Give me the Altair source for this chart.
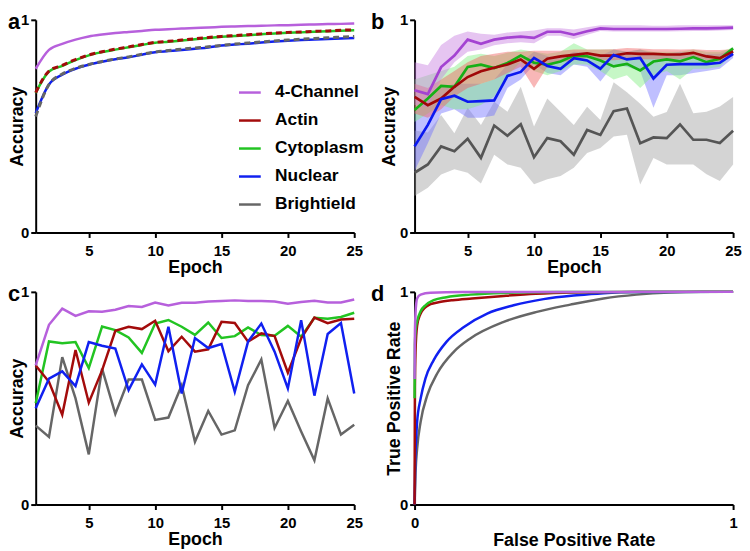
import altair as alt
import pandas as pd

epochs = list(range(1, 26))
series = ["4-Channel", "Actin", "Cytoplasm", "Nuclear", "Brightield"]
line_colors = ["#b760dc", "#a30b0b", "#22c422", "#1020f0", "#666666"]
b_line_colors = ["#a443d2", "#a00808", "#16b016", "#0a18f0", "#555555"]
band_colors = ["#c77ee0", "#f06060", "#80ee80", "#7070ff", "#a0a0a0"]
panel_letters = ["a", "b", "c", "d"]
FONT = "Liberation Sans"

# ---------- panel a: mean training curves ----------
a_vals = {
    "4-Channel": [.770, .859, .887, .907, .922, .931, .938, .943, .948, .953, .956, .959, .962,
                  .964, .967, .969, .971, .972, .974, .975, .977, .978, .980, .981, .983],
    "Actin": [.658, .759, .786, .813, .835, .850, .862, .873, .884, .894, .899, .905, .911,
              .917, .922, .926, .930, .934, .938, .941, .943, .946, .948, .951, .953],
    "Cytoplasm": [.656, .757, .784, .811, .833, .848, .860, .871, .882, .892, .897, .903, .909,
                  .915, .920, .924, .928, .932, .936, .939, .941, .944, .946, .949, .951],
    "Nuclear": [.561, .696, .742, .770, .789, .803, .815, .824, .836, .848, .853, .858, .864,
                .870, .879, .884, .888, .893, .898, .902, .905, .907, .910, .912, .915],
    "Brightield": [.545, .696, .745, .772, .790, .804, .816, .826, .838, .849, .856, .862, .868,
                   .873, .880, .886, .891, .896, .901, .905, .909, .912, .916, .919, .922],
}
a_dashed = ["Actin", "Brightield"]

# ---------- panel b: mean with range bands ----------
b_mean = {
    "4-Channel": [.669, .651, .778, .832, .907, .887, .907, .916, .921, .915, .944, .944, .930,
                  .946, .960, .957, .957, .957, .957, .957, .958, .960, .960, .961, .963],
    "Actin": [.638, .599, .630, .685, .731, .758, .775, .790, .814, .770, .817, .828, .835,
              .843, .832, .832, .843, .840, .840, .837, .837, .845, .828, .820, .851],
    "Cytoplasm": [.576, .630, .689, .685, .778, .789, .773, .797, .832, .798, .789, .804, .832,
                  .829, .809, .781, .793, .762, .804, .814, .805, .825, .801, .817, .866],
    "Nuclear": [.405, .506, .627, .643, .615, .618, .621, .736, .755, .821, .783, .770, .820,
                .809, .770, .835, .814, .821, .724, .789, .792, .792, .792, .798, .840],
    "Brightield": [.281, .320, .405, .382, .441, .351, .503, .455, .509, .354, .444, .429, .366,
                   .482, .459, .571, .583, .420, .447, .444, .508, .436, .436, .421, .478],
}
b_hi = {
    "4-Channel": [.800, .786, .882, .925, .945, .935, .930, .940, .945, .950, .960, .960, .955,
                  .965, .975, .975, .975, .975, .972, .972, .975, .975, .975, .975, .975],
    "Actin": [.700, .680, .720, .760, .800, .830, .840, .850, .850, .855, .855, .855, .860,
              .860, .860, .862, .868, .865, .862, .862, .860, .862, .858, .858, .862],
    "Cytoplasm": [.720, .740, .760, .780, .830, .840, .830, .845, .860, .850, .840, .850, .890,
                  .860, .860, .860, .850, .860, .850, .850, .850, .860, .850, .850, .870],
    "Nuclear": [.568, .620, .680, .700, .700, .700, .720, .790, .800, .850, .830, .820, .850,
                .845, .830, .860, .850, .860, .840, .840, .850, .840, .840, .840, .860],
    "Brightield": [.480, .470, .553, .467, .587, .506, .615, .568, .685, .498, .630, .568, .506,
                   .591, .529, .707, .660, .606, .544, .567, .699, .561, .568, .592, .637],
}
b_lo = {
    "4-Channel": [.600, .590, .720, .800, .850, .860, .880, .890, .895, .890, .925, .925, .910,
                  .930, .948, .945, .945, .945, .945, .945, .946, .948, .948, .950, .952],
    "Actin": [.560, .540, .580, .640, .680, .700, .720, .750, .780, .680, .780, .800, .810,
              .820, .810, .810, .815, .815, .815, .815, .815, .825, .810, .805, .830],
    "Cytoplasm": [.520, .560, .600, .580, .580, .600, .640, .740, .800, .760, .740, .760, .790,
                  .790, .760, .720, .740, .680, .740, .760, .720, .770, .770, .780, .840],
    "Nuclear": [.289, .420, .560, .580, .540, .540, .550, .680, .720, .790, .750, .740, .790,
                .780, .710, .790, .780, .760, .587, .740, .740, .750, .760, .770, .820],
    "Brightield": [.172, .211, .273, .297, .281, .230, .366, .320, .304, .227, .250, .266, .304,
                   .374, .397, .451, .460, .226, .350, .320, .320, .320, .274, .242, .320],
}
b_band_order = ["Brightield", "Nuclear", "Cytoplasm", "Actin", "4-Channel"]
b_line_order = ["Brightield", "4-Channel", "Cytoplasm", "Actin", "Nuclear"]

# ---------- panel c: single run ----------
c_vals = {
    "Brightield": [.371, .318, .693, .499, .236, .639, .426, .588, .588, .398, .409, .561, .295,
                   .440, .329, .349, .561, .682, .360, .487, .344, .208, .499, .329, .375],
    "Cytoplasm": [.476, .767, .758, .764, .642, .837, .820, .786, .713, .851, .868, .836, .798,
                  .856, .783, .792, .833, .797, .794, .840, .789, .878, .874, .882, .902],
    "Actin": [.654, .577, .422, .727, .479, .631, .817, .836, .825, .864, .721, .789, .719,
              .730, .859, .854, .766, .805, .792, .620, .781, .879, .853, .870, .874],
    "Nuclear": [.453, .592, .626, .557, .764, .747, .733, .538, .659, .564, .836, .522, .783,
                .736, .755, .530, .766, .851, .719, .546, .867, .512, .802, .853, .522],
    "4-Channel": [.654, .845, .921, .887, .909, .907, .916, .933, .929, .950, .936, .949, .949,
                  .955, .957, .960, .957, .957, .955, .944, .952, .958, .950, .950, .964],
}

# ---------- panel d: ROC curves ----------
roc = {
    "Brightield": ([0, .003, .008, .019, .04, .071, .123, .175, .28, .384, .489, .593, .697, .80, .9, 1],
                   [0, .15, .263, .389, .514, .616, .718, .781, .859, .906, .94, .969, .987, .997, 1, 1]),
    "Nuclear": ([0, .002, .005, .008, .019, .034, .06, .10, .155, .228, .311, .405, .509, .593, .70, 1],
                [0, .2, .31, .389, .498, .592, .679, .765, .835, .898, .937, .966, .984, .994, .999, 1]),
    "Actin": ([0, .001, .003, .008, .018, .03, .05, .075, .12, .18, .28, .38, .5, .7, 1],
              [0, .55, .72, .84, .895, .922, .942, .951, .961, .969, .981, .991, .997, 1, 1]),
    "Cytoplasm": ([0, .001, .004, .008, .019, .034, .06, .10, .175, .28, .45, 1],
                  [.5, .75, .83, .862, .909, .937, .961, .975, .987, .995, .999, 1]),
    "4-Channel": ([0, .001, .003, .008, .019, .05, .15, 1],
                  [.59, .80, .90, .969, .987, .996, .999, 1]),
}


def long_df(d, order):
    rows = []
    for name in order:
        for e, v in zip(epochs, d[name]):
            rows.append({"series": name, "epoch": e, "acc": v})
    return pd.DataFrame(rows)


W, H = 322, 215


def x_epoch():
    return alt.X("epoch:Q", scale=alt.Scale(domain=[1, 25], nice=False, zero=False),
                 axis=alt.Axis(values=[5, 10, 15, 20, 25], title="Epoch", titlePadding=0))


def y_axis(field, title, tp):
    return alt.Y(field, scale=alt.Scale(domain=[0, 1], nice=False),
                 axis=alt.Axis(values=[0, 1], format="d", title=title, titlePadding=tp))


def letter(ch, dx):
    return alt.Chart(pd.DataFrame({"t": [ch]})).mark_text(
        align="left", baseline="alphabetic", fontSize=22, fontWeight="bold",
        font=FONT, color="black").encode(text="t:N", x=alt.value(dx), y=alt.value(9))


# panel a
df_a_solid = long_df(a_vals, ["4-Channel", "Cytoplasm", "Nuclear"])
df_a_dash = long_df(a_vals, a_dashed)
a_solid = alt.Chart(df_a_solid).mark_line(strokeWidth=2.5, interpolate="monotone").encode(
    x=x_epoch(), y=y_axis("acc:Q", "Accuracy", -6),
    color=alt.Color("series:N", scale=alt.Scale(domain=series, range=line_colors),
                    legend=alt.Legend(orient="none", legendX=204, legendY=61, title=None,
                                      symbolType="stroke", symbolSize=484, symbolStrokeWidth=2.5,
                                      labelFontSize=17.5, labelFont=FONT, labelFontWeight="bold",
                                      labelColor="black", labelOffset=13, rowPadding=7.3,
                                      symbolOpacity=1)))
a_dash = alt.Chart(df_a_dash).mark_line(strokeWidth=3, strokeDash=[6, 4], interpolate="monotone").encode(
    x=x_epoch(), y=y_axis("acc:Q", "Accuracy", -6),
    stroke=alt.Stroke("series:N", scale=alt.Scale(domain=series, range=line_colors), legend=None))
panel_a = alt.layer(a_solid, a_dash, letter(panel_letters[0], -28)).properties(width=W, height=H)

# panel b
band_rows = []
for name in b_band_order:
    for e, lo, hi in zip(epochs, b_lo[name], b_hi[name]):
        band_rows.append({"series": name, "epoch": e, "lo": lo, "hi": hi})
df_b_band = pd.DataFrame(band_rows)
df_b_line = long_df(b_mean, b_line_order)
b_band = alt.Chart(df_b_band).mark_area(opacity=0.45).encode(
    x=x_epoch(), y=y_axis("lo:Q", "Accuracy", 1), y2="hi:Q",
    fill=alt.Fill("series:N", scale=alt.Scale(domain=series, range=band_colors), legend=None))
b_line = alt.Chart(df_b_line).mark_line(strokeWidth=2.7).encode(
    x=x_epoch(), y=y_axis("acc:Q", "Accuracy", 1),
    stroke=alt.Stroke("series:N", scale=alt.Scale(domain=series, range=b_line_colors), legend=None))
panel_b = alt.layer(b_band, b_line, letter(panel_letters[1], -44)).properties(width=W, height=H)

# panel c
df_c = long_df(c_vals, list(c_vals.keys()))
c_line = alt.Chart(df_c).mark_line(strokeWidth=2.5).encode(
    x=x_epoch(), y=y_axis("acc:Q", "Accuracy", -6),
    stroke=alt.Stroke("series:N", scale=alt.Scale(domain=series, range=line_colors), legend=None))
panel_c = alt.layer(c_line, letter(panel_letters[2], -28)).properties(width=W, height=H)

# panel d
roc_rows = []
for name, (fx, ty) in roc.items():
    for i, (f, t) in enumerate(zip(fx, ty)):
        roc_rows.append({"series": name, "fpr": f, "tpr": t, "i": i})
df_d = pd.DataFrame(roc_rows)
d_line = alt.Chart(df_d).mark_line(strokeWidth=2.5, interpolate="monotone").encode(
    x=alt.X("fpr:Q", scale=alt.Scale(domain=[0, 1], nice=False),
            axis=alt.Axis(values=[0, 1], format="d", title="False Positive Rate", titlePadding=1)),
    y=y_axis("tpr:Q", "True Positive Rate", -4),
    stroke=alt.Stroke("series:N", scale=alt.Scale(domain=series, range=line_colors), legend=None),
    order="i:Q")
panel_d = alt.layer(d_line, letter(panel_letters[3], -44)).properties(width=W, height=H)

chart = alt.concat(panel_a, panel_b, panel_c, panel_d, columns=2,
                   spacing={"row": 60, "column": 61}, bounds="flush").resolve_scale(
    color="independent", stroke="independent", fill="independent"
).properties(
    padding={"top": 0, "left": 0, "right": 0, "bottom": 0}
).configure_view(stroke=None).configure_axis(
    grid=False, domainColor="black", domainWidth=2, tickColor="black", tickWidth=2, tickSize=5,
    labelFont=FONT, labelFontWeight="bold", labelFontSize=15, labelColor="black", labelFlush=False,
    titleFont=FONT, titleFontWeight="bold", titleFontSize=18, titleColor="black"
).configure_axisX(labelPadding=6).configure_axisY(labelPadding=2)

chart.save("out.html", embed_options={"renderer": "svg", "actions": False})
